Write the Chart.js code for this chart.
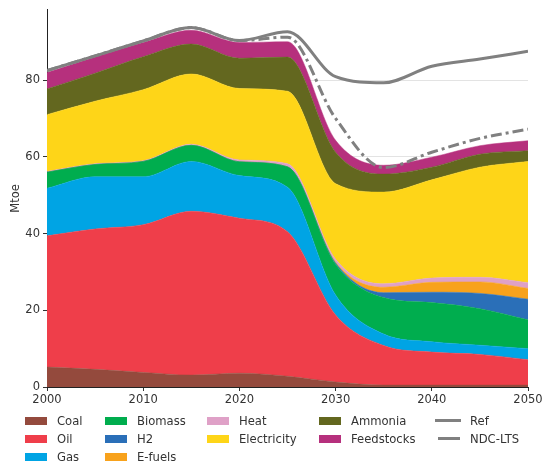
<!DOCTYPE html>
<html>
<head>
<meta charset="utf-8">
<script src="https://cdn.jsdelivr.net/npm/chart.js@4.4.1/dist/chart.umd.min.js"></script>
<style>
  body { margin: 0; background: #fff; }
  #wrap { position: relative; width: 555px; height: 474px; font-family: "DejaVu Sans", sans-serif; }
  #legend { position: absolute; left: 0; top: 0; width: 555px; height: 474px; pointer-events: none; }
  .item { position: absolute; height: 16px; line-height: 16px; font-size: 11.6px; color: #333; white-space: nowrap; }
  .swatch { position: absolute; left: 0; top: 4px; width: 22px; height: 8px; }
  .line { position: absolute; top: 6px; height: 3px; background: #808080; }
</style>
</head>
<body>
<div id="wrap">
  <canvas id="energyChart" width="555" height="474"></canvas>
  <div id="legend"></div>
</div>
<script>
const years = [2000, 2005, 2010, 2015, 2020, 2025, 2030, 2035, 2040, 2045, 2050];

// Mtoe per carrier, bottom of the stack first
const coal        = [5.2, 4.6, 3.8, 3.1, 3.6, 2.8, 1.3, 0.5, 0.5, 0.5, 0.5];
const oil         = [34.2, 36.6, 38.5, 42.7, 40.4, 37.7, 17.5, 10.3, 8.6, 8.0, 6.6];
const gas         = [12.4, 13.6, 12.5, 13.0, 11.1, 11.6, 5.2, 3.0, 2.7, 2.4, 2.9];
const biomass     = [4.2, 3.2, 4.0, 4.2, 3.6, 5.3, 8.0, 9.5, 10.2, 9.5, 7.5];
const h2          = [0, 0, 0, 0, 0, 0, 0.3, 1.3, 2.7, 4.0, 5.4];
const eFuels      = [0, 0, 0, 0, 0, 0, 0.2, 1.4, 2.6, 3.0, 2.8];
const heat        = [0.2, 0.2, 0.2, 0.3, 0.5, 0.8, 0.8, 0.9, 1.1, 1.2, 1.5];
const electricity = [14.8, 16.3, 18.5, 18.3, 18.6, 18.9, 19.7, 23.9, 25.6, 28.7, 31.6];
const ammonia     = [6.7, 7.3, 8.6, 7.8, 7.9, 8.9, 8.2, 4.7, 3.3, 3.4, 2.8];
const feedstocks  = [4.3, 4.2, 3.7, 3.6, 4.1, 4.0, 3.1, 2.3, 2.6, 2.2, 2.6];

// scenario totals
const ref    = [82.5, 86.3, 90.2, 93.7, 90.3, 92.6, 80.9, 79.3, 83.6, 85.5, 87.5];
const ndcLts = [82.5, 86.3, 90.2, 93.7, 90.3, 91.2, 70.0, 57.2, 61.2, 64.8, 67.2];

const yTicks = [0, 20, 40, 60, 80];
const xTicks = [2000, 2010, 2020, 2030, 2040, 2050];

const areas = [
	{ label: 'Coal', values: coal, color: '#944a3d' },
	{ label: 'Oil', values: oil, color: '#ef3e4a' },
	{ label: 'Gas', values: gas, color: '#00a4e4' },
	{ label: 'Biomass', values: biomass, color: '#00ad4e' },
	{ label: 'H2', values: h2, color: '#2a6fb8' },
	{ label: 'E-fuels', values: eFuels, color: '#f8a21c' },
	{ label: 'Heat', values: heat, color: '#dfa1c7' },
	{ label: 'Electricity', values: electricity, color: '#fed518' },
	{ label: 'Ammonia', values: ammonia, color: '#63671f' },
	{ label: 'Feedstocks', values: feedstocks, color: '#b6307d' },
];
const lines = [
	{ label: 'Ref', values: ref, dash: [] },
	{ label: 'NDC-LTS', values: ndcLts, dash: [11, 4, 3, 4] },
];

const font = { family: '"DejaVu Sans", sans-serif', size: 11.5 };
const toPoints = ( values ) => years.map( ( x, i ) => ( { x, y: values[ i ] } ) );

const datasets = areas.map( ( a, i ) => ( {
	label: a.label,
	data: toPoints( a.values ),
	backgroundColor: a.color,
	borderColor: a.color,
	borderWidth: 0.5,
	fill: i === 0 ? 'origin' : '-1',
	pointRadius: 0,
	cubicInterpolationMode: 'monotone',
	yAxisID: 'y',
} ) ).concat( lines.map( ( l ) => ( {
	label: l.label,
	data: toPoints( l.values ),
	borderColor: '#808080',
	borderWidth: 3,
	borderDash: l.dash,
	fill: false,
	pointRadius: 0,
	cubicInterpolationMode: 'monotone',
	yAxisID: 'yLine',
	order: -1,
} ) ) );

new Chart( document.getElementById( 'energyChart' ), {
	type: 'line',
	data: { datasets },
	options: {
		responsive: false,
		animation: false,
		devicePixelRatio: 1,
		layout: { padding: { left: 0, top: 6, right: 27, bottom: 67 } },
		plugins: { legend: { display: false }, tooltip: { enabled: false } },
		scales: {
			x: {
				type: 'linear',
				min: 2000,
				max: 2050,
				afterBuildTicks: ( s ) => { s.ticks = xTicks.map( ( v ) => ( { value: v } ) ); },
				afterFit: ( s ) => { s.height = 20; },
				ticks: { color: '#333', font, padding: 2, callback: ( v ) => String( v ) },
				grid: { drawOnChartArea: false, tickLength: 4, tickColor: '#333' },
				border: { color: '#222', width: 1 },
			},
			y: {
				stacked: true,
				min: 0,
				max: 98.3,
				afterBuildTicks: ( s ) => { s.ticks = yTicks.map( ( v ) => ( { value: v } ) ); },
				afterFit: ( s ) => { s.width = 47; },
				ticks: { color: '#333', font, padding: 3 },
				grid: { color: '#e3e3e3', tickLength: 4, tickColor: '#333' },
				border: { color: '#222', width: 1 },
				title: { display: true, text: 'Mtoe', color: '#333', font, padding: { top: 9, bottom: 0 } },
			},
			yLine: {
				display: false,
				stacked: false,
				min: 0,
				max: 98.3,
			},
		},
	},
} );

// legend, column by column like the original
const legendCols = [ [ 0, 1, 2 ], [ 3, 4, 5 ], [ 6, 7 ], [ 8, 9 ], [ 10, 11 ] ];
const colX = [ 25, 105, 207, 319, 435 ];
const rowY = [ 413, 431, 449 ];
const legend = document.getElementById( 'legend' );
legendCols.forEach( ( col, c ) => {
	col.forEach( ( idx, r ) => {
		const item = document.createElement( 'div' );
		item.className = 'item';
		item.style.left = colX[ c ] + 'px';
		item.style.top = rowY[ r ] + 'px';
		if ( idx < areas.length ) {
			item.innerHTML = '<span class="swatch" style="background:' + areas[ idx ].color + '"></span>';
			item.innerHTML += '<span style="margin-left:32px">' + areas[ idx ].label + '</span>';
		} else {
			const l = lines[ idx - areas.length ];
			const short = l.dash.length > 0;
			item.innerHTML = '<span class="line" style="left:' + ( short ? 3 : 0 ) + 'px;width:' + ( short ? 22 : 26 ) + 'px"></span>';
			item.innerHTML += '<span style="margin-left:35px">' + l.label + '</span>';
		}
		legend.appendChild( item );
	} );
} );
</script>
</body>
</html>
